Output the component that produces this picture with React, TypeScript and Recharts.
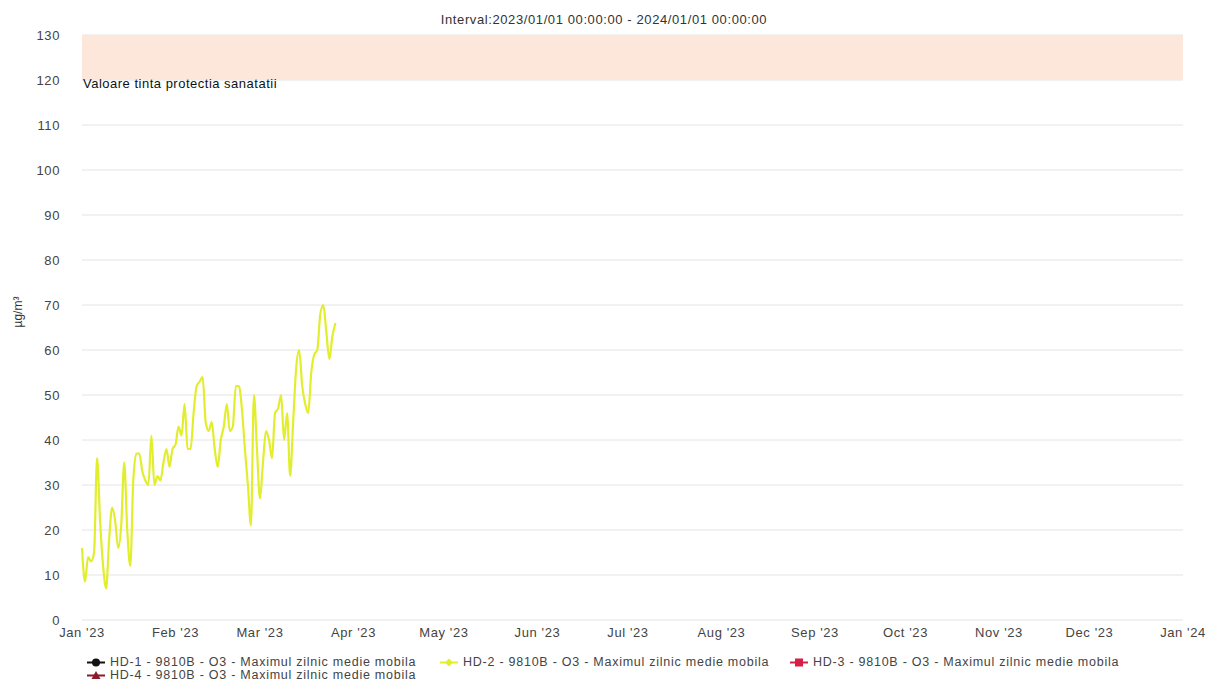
import { LineChart, Line, XAxis, YAxis, CartesianGrid, ReferenceArea } from 'recharts';

const FONT = '"Liberation Sans", Arial, sans-serif';
const LS = 0.6;

// daily values starting 2023-01-01 (HD-2 station)
const hd2Values = [
  16, 8.5, 14, 13, 15, 36, 22, 12, 7, 18,
  25, 22, 16, 21, 35, 20, 12, 31, 37, 37,
  33, 31, 30, 41, 30, 32, 31, 35, 38, 34,
  38, 39, 43, 41, 48, 38, 38, 46, 52, 53,
  54, 44, 42, 44, 38, 34, 40, 43, 48, 42,
  43, 52, 52, 47, 38, 30, 21, 50, 38, 27,
  35, 42, 40, 36, 46, 47, 50, 40, 46, 32,
  44, 56, 60, 52, 48, 46, 55, 59, 60, 68,
  70, 64, 58, 63, 66,
];

const monthTicks = [0, 31, 59, 90, 120, 151, 181, 212, 243, 273, 304, 334, 365];
const monthLabels = [
  "Jan '23", "Feb '23", "Mar '23", "Apr '23", "May '23", "Jun '23",
  "Jul '23", "Aug '23", "Sep '23", "Oct '23", "Nov '23", "Dec '23", "Jan '24",
];
const yTicks = [0, 10, 20, 30, 40, 50, 60, 70, 80, 90, 100, 110, 120, 130];

const legendItems = [
  { name: 'HD-1 - 9810B - O3 - Maximul zilnic medie mobila', color: '#111111', marker: 'circle', x: 86, y: 656 },
  { name: 'HD-2 - 9810B - O3 - Maximul zilnic medie mobila', color: '#e2ee2c', marker: 'diamond', x: 439, y: 656 },
  { name: 'HD-3 - 9810B - O3 - Maximul zilnic medie mobila', color: '#d81e46', marker: 'square', x: 789, y: 656 },
  { name: 'HD-4 - 9810B - O3 - Maximul zilnic medie mobila', color: '#8c1a2c', marker: 'triangle', x: 86, y: 669 },
];

const data = hd2Values.map((v, i) => ({ day: i, hd2: v }));

const Marker = ({ type, color }: { type: string; color: string }) => (
  <svg width={20} height={11} style={{ marginRight: 4 }}>
    <line x1={1} y1={5.5} x2={19} y2={5.5} stroke={color} strokeWidth={2} />
    {type === 'circle' && <circle cx={10} cy={5.5} r={4} fill={color} />}
    {type === 'square' && <rect x={6} y={1.5} width={8} height={8} fill={color} />}
    {type === 'diamond' && <path d="M10 1.5 L14 5.5 L10 9.5 L6 5.5 Z" fill={color} />}
    {type === 'triangle' && <path d="M10 1 L14.5 9 L5.5 9 Z" fill={color} />}
  </svg>
);

export default function App() {
  return (
    <div style={{ position: 'absolute', left: 0, top: 0, width: 1208, height: 680, background: '#fff', fontFamily: FONT }}>
      <div style={{ position: 'absolute', top: 12, width: 1208, textAlign: 'center', fontSize: 13, letterSpacing: LS, color: '#333' }}>
        Interval:2023/01/01 00:00:00 - 2024/01/01 00:00:00
      </div>
      <LineChart width={1208} height={680} data={data} margin={{ top: 35, right: 25, left: 22, bottom: 30 }}>
        <CartesianGrid vertical={false} stroke="#e4e4e4" />
        <ReferenceArea
          y1={120}
          y2={130}
          fill="#fde6da"
          fillOpacity={1}
          label={{ value: 'Valoare tinta protectia sanatatii', position: 'insideBottomLeft', dy: 13, dx: -4, fill: '#111', fontSize: 13, letterSpacing: 0.5, fontFamily: FONT }}
        />
        <XAxis
          dataKey="day"
          type="number"
          domain={[0, 365]}
          ticks={monthTicks}
          tickFormatter={(v: number) => monthLabels[monthTicks.indexOf(v)]}
          axisLine={false}
          tickLine={false}
          height={30}
          tick={{ fill: '#444', fontSize: 13, letterSpacing: LS, fontFamily: FONT }}
          interval={0}
        />
        <YAxis
          domain={[0, 130]}
          ticks={yTicks}
          axisLine={false}
          tickLine={false}
          width={60}
          tickMargin={16}
          tick={{ fill: '#444', fontSize: 13, letterSpacing: LS, fontFamily: FONT }}
          label={{ value: 'µg/m³', angle: -90, position: 'insideLeft', offset: -4, fill: '#333', fontSize: 12, fontFamily: FONT }}
        />
        <Line type="monotone" dataKey="hd2" stroke="#e2ee2c" strokeWidth={2.2} dot={false} isAnimationActive={false} />
      </LineChart>
      {legendItems.map((it) => (
        <div
          key={it.name}
          style={{ position: 'absolute', left: it.x, top: it.y, height: 12, lineHeight: '12px', display: 'flex', alignItems: 'center', fontSize: 12.5, letterSpacing: 0.75, color: '#444', whiteSpace: 'nowrap' }}
        >
          <Marker type={it.marker} color={it.color} />
          {it.name}
        </div>
      ))}
    </div>
  );
}
